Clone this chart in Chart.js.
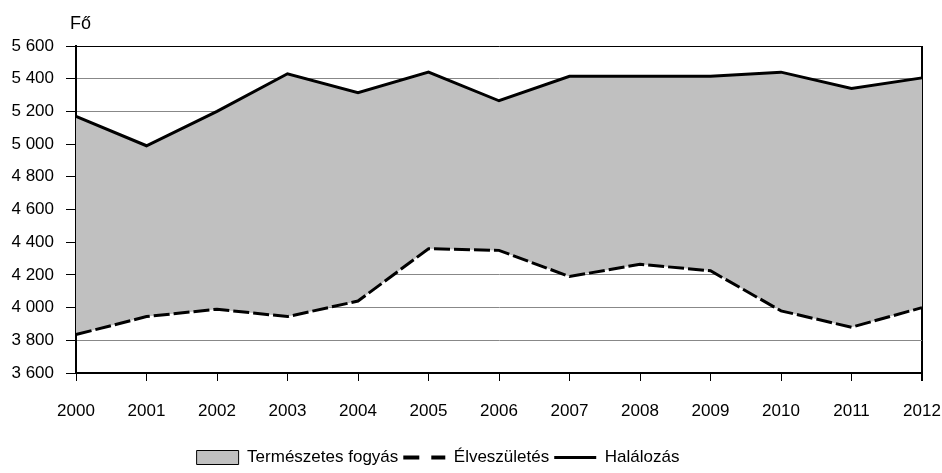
<!DOCTYPE html>
<html>
<head>
<meta charset="utf-8">
<script src="https://cdn.jsdelivr.net/npm/chart.js@4"></script>
<style>
  html, body { margin: 0; padding: 0; background: #fff; }
  #wrap { width: 942px; height: 473px; }
</style>
</head>
<body>
<div id="wrap"><canvas id="myChart"></canvas></div>
<script>
const years = ['2000', '2001', '2002', '2003', '2004', '2005', '2006', '2007', '2008', '2009', '2010', '2011', '2012'];
const births = [3835, 3945, 3990, 3945, 4040, 4360, 4350, 4190, 4265, 4225, 3980, 3880, 4000];
const deaths = [5170, 4990, 5200, 5430, 5315, 5440, 5265, 5415, 5415, 5415, 5440, 5340, 5405];
const yMin = 3600;
const yMax = 5600;
const yStep = 200;

const family = '"Liberation Sans", Arial, sans-serif';
const font = { family: family, size: 17 };

function fmt(v) {
    return String(v).replace(/\B(?=(\d{3})+(?!\d))/g, ' ');
}

// "Fő" unit label above the y axis
const unitLabel = {
    id: 'unitLabel',
    afterDraw(chart) {
        const c = chart.ctx;
        c.save();
        c.font = '18px ' + family;
        c.fillStyle = '#000';
        c.textBaseline = 'alphabetic';
        c.fillText('Fő', chart.chartArea.left - 6, 29);
        c.restore();
    }
};

// put the legend where the original has it
const legendShift = {
    id: 'legendShift',
    afterLayout(chart) {
        const lg = chart.legend;
        const h = lg.bottom - lg.top;
        lg.left -= 66;
        lg.top = 444;
        lg.bottom = lg.top + h;
    }
};

const ctx = document.getElementById('myChart');

new Chart(ctx, {
    type: 'line',
    data: {
        labels: years,
        datasets: [{
            label: 'Halálozás',
            data: deaths,
            borderColor: '#000',
            borderWidth: 3,
            backgroundColor: '#c0c0c0',
            fill: { target: 1 },
            pointRadius: 0,
            tension: 0,
            order: 1
        }, {
            label: 'Élveszületés',
            data: births,
            borderColor: '#000',
            borderWidth: 3,
            borderDash: [16, 4],
            fill: false,
            pointRadius: 0,
            tension: 0,
            order: 0
        }]
    },
    options: {
        responsive: true,
        maintainAspectRatio: false,
        animation: false,
        layout: { padding: { top: 46, right: 0, left: 0, bottom: 0 } },
        plugins: {
            tooltip: { enabled: false },
            legend: {
                position: 'bottom',
                labels: {
                    color: '#000',
                    font: font,
                    usePointStyle: true,
                    pointStyleWidth: 42,
                    boxHeight: 14,
                    padding: 5,
                    generateLabels: function () {
                        return [{
                            text: 'Természetes fogyás',
                            fillStyle: '#c0c0c0',
                            strokeStyle: '#000',
                            lineWidth: 1,
                            pointStyle: 'rect',
                            datasetIndex: 0
                        }, {
                            text: 'Élveszületés',
                            fillStyle: '#000',
                            strokeStyle: '#000',
                            lineWidth: 4,
                            lineDash: [16, 12],
                            pointStyle: 'line',
                            datasetIndex: 1
                        }, {
                            text: 'Halálozás',
                            fillStyle: '#000',
                            strokeStyle: '#000',
                            lineWidth: 3,
                            pointStyle: 'line',
                            datasetIndex: 0
                        }];
                    }
                },
                onClick: function () {}
            }
        },
        scales: {
            x: {
                offset: false,
                border: { color: '#000', width: 2 },
                grid: {
                    color: function (c) { return c.index === years.length - 1 ? '#000' : 'rgba(0,0,0,0)'; },
                    lineWidth: function (c) { return c.index === years.length - 1 ? 2 : 1; },
                    tickColor: '#000',
                    tickLength: 8,
                    drawOnChartArea: true
                },
                ticks: { color: '#000', font: font, maxRotation: 0, padding: 20 },
                afterFit: function (scale) {
                    scale.height = 68;
                    scale.paddingLeft = 0;
                    scale.paddingRight = 20;
                }
            },
            y: {
                min: yMin,
                max: yMax,
                border: { color: '#000', width: 2 },
                grid: {
                    color: function (c) { return c.tick && c.tick.value === yMax ? '#000' : '#888'; },
                    tickColor: '#000',
                    tickLength: 10
                },
                ticks: {
                    stepSize: yStep,
                    color: '#000',
                    font: font,
                    padding: 12,
                    callback: function (v) { return fmt(v); }
                },
                afterFit: function (scale) { scale.width = 76; }
            }
        }
    },
    plugins: [unitLabel, legendShift]
});
</script>
</body>
</html>
